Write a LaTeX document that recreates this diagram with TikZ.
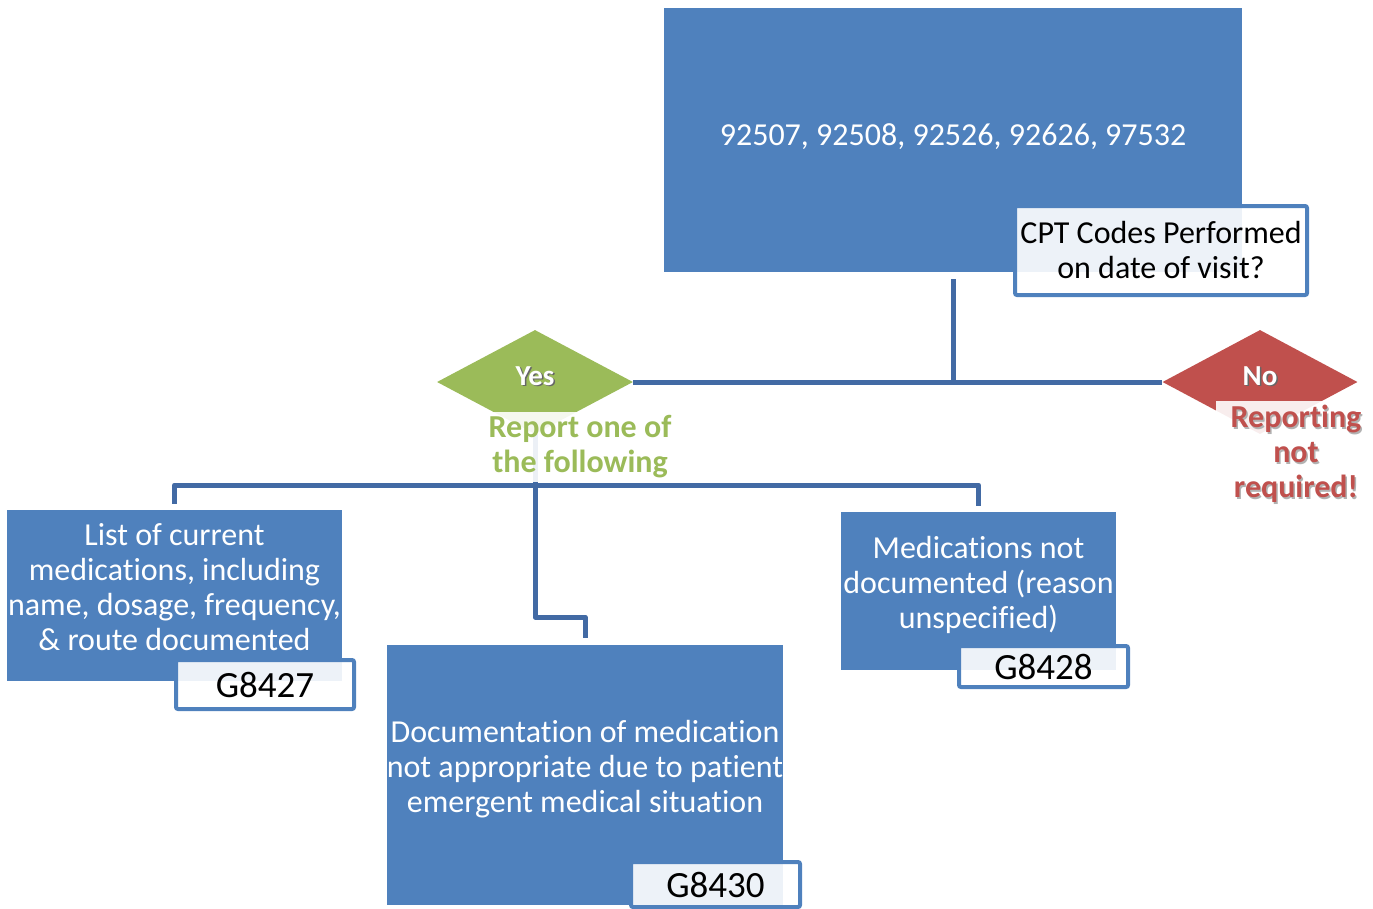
\documentclass[tikz,border=0pt]{standalone}
\usepackage{fontspec}
\setmainfont{Carlito}[Ligatures=NoCommon]
\usetikzlibrary{shapes.geometric,backgrounds}
\definecolor{boxblue}{RGB}{79,129,189}
\definecolor{lineblue}{RGB}{66,106,164}
\definecolor{yesgreen}{RGB}{155,187,89}
\definecolor{nored}{RGB}{192,80,77}
\newcommand{\shadowtext}[2][black!60]{\makebox[0pt][l]{\raisebox{-1.5pt}{\hspace{1.5pt}\textcolor{#1}{#2}}}#2}

\begin{document}
\begin{tikzpicture}[x=1pt,y=-1pt,
	codebox/.style={rectangle, fill=boxblue, text=white, align=center, inner sep=0pt, font=\fontsize{32}{35}\selectfont,
		execute at begin node={\rule{0pt}{28pt}}, execute at end node={\rule[-17pt]{0pt}{0pt}}},
	tagbox/.style={rectangle, rounded corners=2pt, draw=boxblue, line width=4pt, fill=white, fill opacity=0.9, text opacity=1, text=black, align=center, inner sep=0pt, font=\fontsize{32}{35}\selectfont},
	choice/.style={diamond, inner sep=0pt, text=white, text height=18pt, text depth=12pt, font=\bfseries\fontsize{29}{32}\selectfont},
	note/.style={rectangle, fill=white, fill opacity=0.9, text opacity=1, align=center, inner sep=0pt, font=\bfseries\fontsize{32}{35}\selectfont},
	link/.style={draw=lineblue, line width=5pt, line join=round}]
	\useasboundingbox (0,0) rectangle (1373,908);
	% code boxes
	\node (codes) at (953,140)	[codebox, minimum width=578, minimum height=264]	{92507, 92508, 92526, 92626, 97532};
	\node (cpt) at (1161,250.5)	[tagbox, minimum width=292, minimum height=89]	{CPT Codes Performed\\on date of visit?};
	\node (list) at (174.5,595.5)	[codebox, minimum width=335, minimum height=171]	{List of current\\medications, including\\name, dosage, frequency,\\\& route documented};
	\node (g8427) at (265,684.5)	[tagbox, minimum width=178, minimum height=49, font=\fontsize{37}{40}\selectfont]	{G8427};
	\node (emerg) at (585,775)	[codebox, minimum width=394, minimum height=260]	{Documentation of medication\\not appropriate due to patient\\emergent medical situation};
	\node (g8430) at (715.5,884.5)	[tagbox, minimum width=169, minimum height=45, font=\fontsize{37}{40}\selectfont]	{G8430};
	\node (undoc) at (978.5,591)	[codebox, minimum width=275, minimum height=158]	{Medications not\\documented (reason\\unspecified)};
	\node (g8428) at (1043.5,666.5)	[tagbox, minimum width=169, minimum height=41, font=\fontsize{37}{40}\selectfont]	{G8428};
	% decisions
	\node (yes) at (535,382)	[choice, fill=yesgreen, minimum width=196, minimum height=104]	{\shadowtext{Yes}};
	\node (no) at (1260,382)	[choice, fill=nored, minimum width=195, minimum height=104]	{\shadowtext{No}};
	\node (yesnote) at (580,447)	[note, text=yesgreen, minimum width=196, minimum height=70]	{Report one of\\the following};
	\node (nonote) at (1296,455)	[note, text=nored, minimum width=160, minimum height=108]	{\shadowtext[black!30]{Reporting}\\\shadowtext[black!30]{not}\\\shadowtext[black!30]{required!}};
	% connectors
	\coordinate (bus) at (535,485);
	\coordinate (elbow) at (585,617);
	\begin{scope}[on background layer]
		\draw[link, shorten <=7pt] (codes.south) -- (codes.south |- yes.east);
		\draw[link] (yes.east) -- (no.west);
		\draw[link, shorten <=6pt, shorten >=6pt] (list.north) -- (list.north |- bus) -- (undoc.north |- bus) -- (undoc.north);
		\draw[link, shorten >=7pt] (yes.south) -- (yes.south |- elbow) -- (elbow) -- (emerg.north);
	\end{scope}
\end{tikzpicture}
\end{document}
